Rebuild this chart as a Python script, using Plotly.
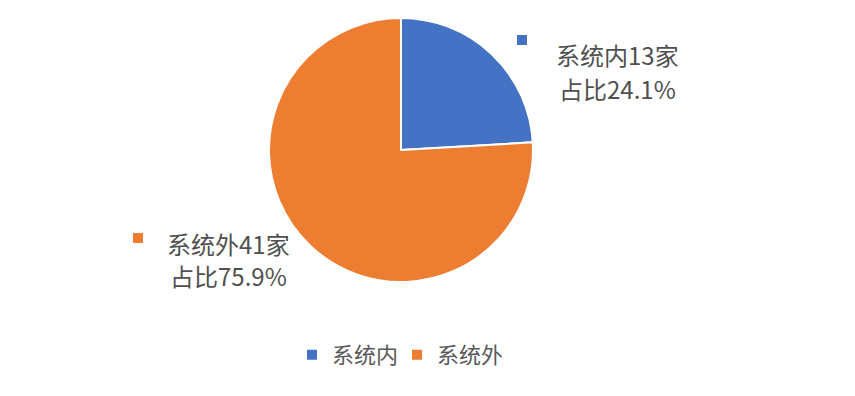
import plotly.graph_objects as go

names = ["系统内", "系统外"]
values = [13, 41]
label_lines1 = ["系统内13家", "系统外41家"]
label_lines2 = ["占比24.1%", "占比75.9%"]
colors = ["#4472C4", "#ED7D31"]

W, H = 855, 396
cx, cy, r = 401, 150, 132

fig = go.Figure(go.Pie(
    labels=names, values=values, sort=False, direction="clockwise", rotation=0,
    marker=dict(colors=colors, line=dict(color="white", width=2)),
    textinfo="none", hoverinfo="label+value+percent",
    domain=dict(x=[(cx - r) / W, (cx + r) / W], y=[1 - (cy + r) / H, 1 - (cy - r) / H]),
))

font_family = "Noto Sans CJK SC, Microsoft YaHei, sans-serif"
# data label placement (pixels)
lab_x = [617, 228]
lab_y1 = [55, 243]
lab_y2 = [88, 275]
sq_pos = [(522, 40), (138, 238)]
for i in range(2):
    for txt, yy in ((label_lines1[i], lab_y1[i]), (label_lines2[i], lab_y2[i])):
        fig.add_annotation(x=lab_x[i] / W, y=1 - yy / H, xref="paper", yref="paper",
                           xanchor="center", yanchor="middle", text=txt,
                           showarrow=False, align="center",
                           font=dict(family=font_family, size=24, color="#505050"))
    sx, sy = sq_pos[i]
    fig.add_shape(type="rect", xref="paper", yref="paper",
                  x0=(sx - 5) / W, x1=(sx + 5) / W, y0=1 - (sy + 5) / H, y1=1 - (sy - 5) / H,
                  fillcolor=colors[i], line=dict(width=0))

fig.update_layout(
    width=W, height=H, margin=dict(l=0, r=0, t=0, b=0),
    paper_bgcolor="white", plot_bgcolor="white",
    showlegend=True,
    legend=dict(orientation="h", x=397 / W, xanchor="center", y=1 - 355 / H, yanchor="middle",
                font=dict(family=font_family, size=22, color="#595959"),
                itemwidth=30, entrywidth=60, entrywidthmode="pixels", traceorder="normal"),
)

fig.write_html("out.html")
